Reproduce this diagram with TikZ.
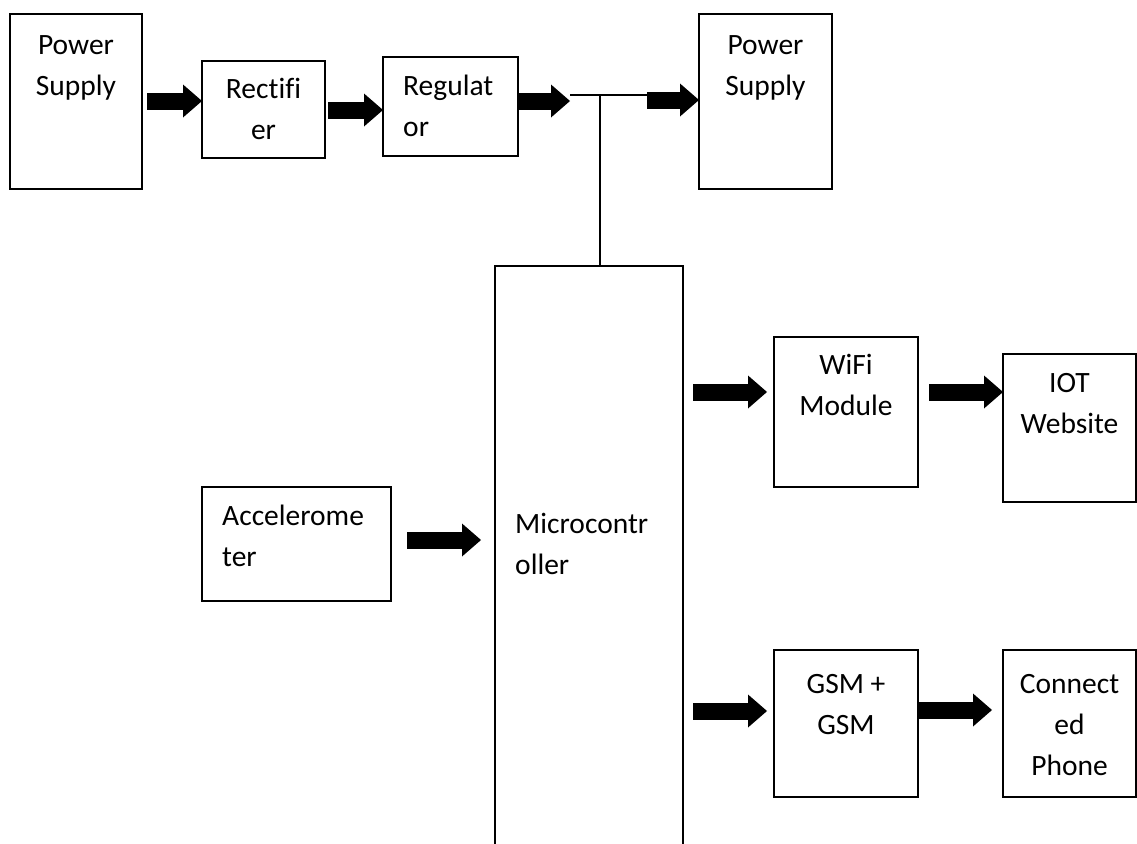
\documentclass[tikz,border=0pt]{standalone}
\usepackage{fontspec}
\setmainfont{Carlito}[Ligatures=NoCommon]
\usetikzlibrary{arrows.meta}
\begin{document}
\begin{tikzpicture}[x=1pt,y=-1pt,
  box/.style={draw=black, line width=1.8pt, rectangle, inner sep=0pt, outer sep=0pt, anchor=north west},
  lbl/.style={inner sep=0pt, font=\fontsize{29.5}{41}\selectfont, align=center, anchor=north},
  lbll/.style={inner sep=0pt, font=\fontsize{29.5}{41}\selectfont, align=left, anchor=north west},
  blk/.style={line width=17pt, -{Triangle[length=19pt,width=33pt,line width=0pt]}},
  wire/.style={line width=1.8pt}]
\useasboundingbox (0,0) rectangle (1137,843);
% boxes
\node[box, minimum width=132pt, minimum height=175pt] (ps1) at (10,14) {};
\node[box, minimum width=123pt, minimum height=97pt] (rect) at (202,61) {};
\node[box, minimum width=135pt, minimum height=99pt] (reg) at (383,57) {};
\node[box, minimum width=133pt, minimum height=175pt] (ps2) at (699,14) {};
\node[box, minimum width=144pt, minimum height=150pt] (wifi) at (774,337) {};
\node[box, minimum width=133pt, minimum height=148pt] (iot) at (1003,354) {};
\node[box, minimum width=189pt, minimum height=114pt] (acc) at (202,487) {};
\node[box, draw=none, minimum width=188pt, minimum height=590pt] (mc) at (495,266) {};
\node[box, minimum width=144pt, minimum height=147pt] (gsm) at (774,650) {};
\node[box, minimum width=133pt, minimum height=147pt] (con) at (1003,650) {};
\draw[wire] (mc.south west) -- (mc.north west) -- (mc.north east) -- (mc.south east);
% labels
\node[lbl] (tps1) at (76,33) {\rule{0pt}{21pt}Power\\Supply};
\node[lbl] (trect) at (263.5,77) {\rule{0pt}{21pt}Rectifi\\er};
\node[lbll] (treg) at (403,74) {\rule{0pt}{21pt}Regulat\\or};
\node[lbl] (tps2) at (765.5,33) {\rule{0pt}{21pt}Power\\Supply};
\node[lbl] (twifi) at (846,353) {\rule{0pt}{21pt}WiFi\\Module};
\node[lbl] (tiot) at (1069.5,371) {\rule{0pt}{21pt}IOT\\Website};
\node[lbll] (tacc) at (222,504) {\rule{0pt}{21pt}Accelerome\\ter};
\node[lbll] (tmc) at (515,512) {\rule{0pt}{21pt}Microcontr\\oller};
\node[lbl] (tgsm) at (846,672) {\rule{0pt}{21pt}GSM +\\GSM};
\node[lbl] (tcon) at (1069.5,672) {\rule{0pt}{21pt}Connect\\ed\\Phone};
% junction wiring
\coordinate (j1) at (570,95);
\coordinate (j2) at (647,95);
\coordinate (jv) at (600,95);
\draw[wire] (j1) -- (j2);
\draw[wire] (jv) -- (mc.north west -| jv);
% block arrows
\draw[blk] ([xshift=5pt]ps1.east |- {0,101}) -- (rect.west |- {0,101});
\draw[blk] ([xshift=3pt]rect.east |- {0,110}) -- (reg.west |- {0,110});
\draw[blk] (reg.east |- {0,101}) -- (j1 |- {0,101});
\draw[blk] (j2 |- {0,100}) -- (ps2.west |- {0,100});
\draw[blk] ([xshift=10pt]mc.east |- {0,392}) -- ([xshift=-7pt]wifi.west |- {0,392});
\draw[blk] ([xshift=11pt]wifi.east |- {0,392}) -- (iot.west |- {0,392});
\draw[blk] ([xshift=16pt]acc.east |- {0,540}) -- ([xshift=-14pt]mc.west |- {0,540});
\draw[blk] ([xshift=10pt]mc.east |- {0,711}) -- ([xshift=-7pt]gsm.west |- {0,711});
\draw[blk] (gsm.east |- {0,710}) -- ([xshift=-11pt]con.west |- {0,710});
\end{tikzpicture}
\end{document}
